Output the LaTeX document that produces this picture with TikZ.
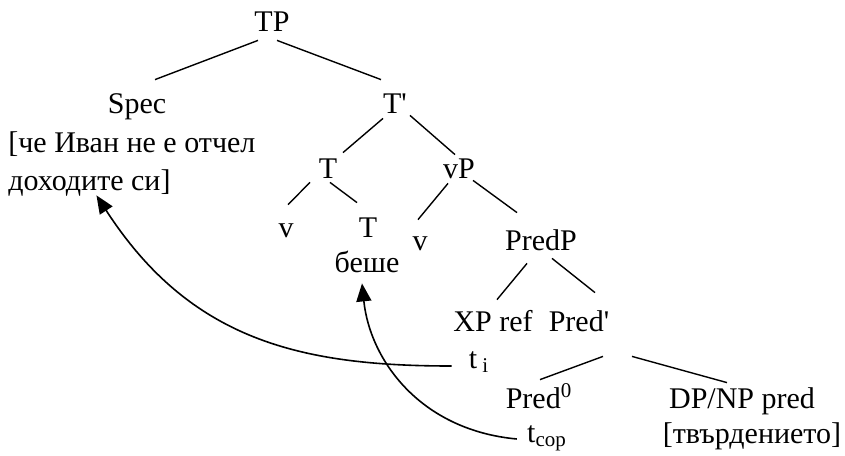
\documentclass[tikz,border=0pt]{standalone}
\usepackage{fontspec}
\setmainfont{Liberation Serif}
\usepackage{tikz}
\usetikzlibrary{arrows.meta}

\begin{document}
\begin{tikzpicture}[x=0.5pt,y=-0.5pt,
    lab/.style={anchor=base,inner sep=0pt,text height=10pt,text depth=0pt,font=\fontsize{15}{18}\selectfont},
    branch/.style={line width=0.7pt},
    mv/.style={line width=0.8pt,-{Triangle[length=9pt,width=7.5pt]}}]
                \useasboundingbox (0,0) rectangle (845,455);

                \node[lab] (TP) at (272,32) {TP};
                \node[lab] (Spec) at (137,113) {Spec};
                \node[lab,anchor=base west] (SpecA) at (8,152) {[че Иван не е отчел};
                \node[lab,anchor=base west] (SpecB) at (8,190) {доходите си]};
                \node[lab] (Tbar) at (395,113) {T\textquotesingle};
                \node[lab] (T) at (328,178) {T};
                \node[lab] (vP) at (459,178) {vP};
                \node[lab] (vA) at (286,237) {v};
                \node[lab] (Tzero) at (368,237) {T};
                \node[lab] (beshe) at (367,272) {беше};
                \node[lab] (vB) at (420,250) {v};
                \node[lab] (PredP) at (541,250) {PredP};
                \node[lab] (XP) at (493,331) {XP ref};
                \node[lab] (Predbar) at (579,331) {Pred\textquotesingle};
                \node[lab] (ti) at (479,368) {t\,\textsubscript{i}};
                \node[lab] (Predzero) at (539,408) {Pred\textsuperscript{0}};
                \node[lab] (DPNP) at (742,408) {DP/NP pred};
                \node[lab] (tcop) at (547,442) {t\textsubscript{cop}};
                \node[lab] (tvard) at (752,443) {[твърдението]};

                \draw[branch] ([shift={(-14,8)}]TP.south) -- ([shift={(18,-13)}]Spec.north);
                \draw[branch] ([shift={(5,8)}]TP.south) -- ([shift={(-14,-13)}]Tbar.north);
                \draw[branch] ([shift={(-12,5)}]Tbar.south) -- ([shift={(15,-5)}]T.north);
                \draw[branch] ([shift={(15,2)}]Tbar.south) -- ([shift={(-4,-3)}]vP.north);
                \draw[branch] ([shift={(-18,4)}]T.south) -- ([shift={(2,-12)}]vA.north);
                \draw[branch] ([shift={(2,4)}]T.south) -- ([shift={(-11,-14)}]Tzero.north);
                \draw[branch] ([shift={(-11,5)}]vP.south) -- ([shift={(-2,-10)}]vB.north);
                \draw[branch] ([shift={(14,2)}]vP.south) -- ([shift={(-24,-17)}]PredP.north);
                \draw[branch] ([shift={(-14,13)}]PredP.south) -- ([shift={(4,-11)}]XP.north);
                \draw[branch] ([shift={(11,8)}]PredP.south) -- ([shift={(16,-18)}]Predbar.north);
                \draw[branch] ([shift={(24,25)}]Predbar.south) -- ([shift={(1,-8)}]Predzero.north);
                \draw[branch] ([shift={(53,25)}]Predbar.south) -- ([shift={(-15,-5)}]DPNP.north);

                \draw[mv] ([shift={(-17,-2)}]ti.base west) .. controls (300,366) and (190,340) .. ([shift={(7,5)}]SpecB.south);
                \draw[mv] ([shift={(-10,-3)}]tcop.base west) .. controls (420,430) and (370,360) .. ([shift={(-5,11)}]beshe.south);
            \end{tikzpicture}
\end{document}
